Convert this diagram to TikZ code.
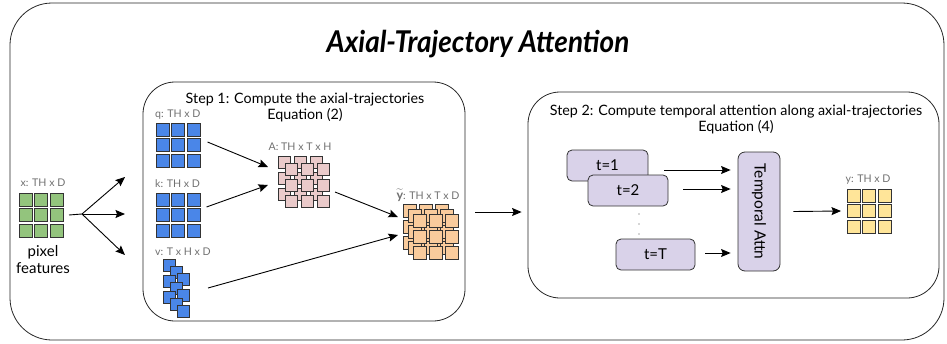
\documentclass[tikz,border=0pt]{standalone}
\usepackage{fontspec}
\usepackage{graphicx}
\usepackage{amsmath}
\setmainfont{Lato}
\usetikzlibrary{arrows.meta,calc}

\definecolor{pixgreen}{HTML}{93C47D}
\definecolor{pixblue}{HTML}{4A86E8}
\definecolor{pixpink}{HTML}{EACACA}
\definecolor{pixorange}{HTML}{F9CB9C}
\definecolor{pixyellow}{HTML}{FFE599}
\definecolor{lavender}{HTML}{D9D2E9}
\definecolor{edgegray}{HTML}{333333}
\definecolor{labelgray}{HTML}{707070}

% 3x3 grid of cells: x, y (top-left), cell size, pitch, fill colour
\newcommand\cellgrid[5]{%
  \foreach \i in {0,1,2}{\foreach \j in {0,1,2}{%
    \draw[cell,fill=#5] (#1+\i*#4,#2+\j*#4) rectangle ++(#3,#3);}}}

\tikzset{
  cell/.style={draw=edgegray,line width=0.7pt},
  gridbox/.style={inner sep=0pt,outer sep=0pt},
  panel/.style={draw=black!85,line width=0.8pt,rounded corners=#1},
  arr/.style={line width=0.9pt,-{Stealth[length=9.5pt,width=8pt,inset=1.5pt]}},
  plain/.style={line width=0.9pt},
  dimlabel/.style={text=labelgray,font=\fontsize{10.6}{12}\selectfont,inner sep=0pt},
  steptext/.style={font=\fontsize{14.3}{17}\selectfont,align=center,inner sep=0pt},
  tbox/.style={draw=edgegray,fill=lavender,line width=0.8pt,rounded corners=5pt,
    font=\fontsize{15}{18}\selectfont,inner sep=0pt},
}

\begin{document}
\begin{tikzpicture}[x=1pt,y=-1pt]
\useasboundingbox (0,0) rectangle (947,343);

% outer frame and title
\node[panel=42pt,minimum width=934pt,minimum height=337pt] (frame) at (477,171.5) {};
\node[inner sep=0pt,anchor=base] (title) at (478,52)
  {\scalebox{0.93}[1]{\fontsize{30}{34}\selectfont\bfseries\itshape Axial-Trajectory Attention}};

% input pixel features
\node[dimlabel] (xlab) at (43,183) {x: TH x D};
\cellgrid{19}{193}{13}{15.5}{pixgreen}
\node[gridbox,minimum width=44pt,minimum height=44pt] (xg) at (41,215) {};
\node[font=\fontsize{15}{18}\selectfont,align=center,inner sep=0pt] (pf) at (43,260) {pixel\\[-1pt]features};

% fan-out to q, k, v
\coordinate (split) at (82,214);
\coordinate (toq) at (125,177);
\coordinate (tok) at (125,214);
\coordinate (tov) at (125,255);
\draw[plain] (xg.east) ++(6,0) -- (split);
\draw[arr] (split) -- (toq);
\draw[arr] (split) -- (tok);
\draw[arr] (split) -- (tov);

% step 1 panel
\node[panel=32pt,minimum width=322pt,minimum height=239pt] (step1) at (304,201.5) {};
\node[steptext] (s1) at (305,107) {Step 1: Compute the axial-trajectories\\[-1pt]Equation (2)};

% q and k
\node[dimlabel,anchor=west] (qlab) at (155,115) {q: TH x D};
\cellgrid{156}{123}{13}{15.5}{pixblue}
\node[gridbox,minimum width=44pt,minimum height=44pt] (q) at (178,145) {};
\node[dimlabel,anchor=west] (klab) at (155,184) {k: TH x D};
\cellgrid{156}{193}{13}{15.5}{pixblue}
\node[gridbox,minimum width=44pt,minimum height=44pt] (k) at (178,215) {};

% v: three diagonal stacks
\node[dimlabel,anchor=west] (vlab) at (155,252) {v: T x H x D};
\foreach \g in {0,1,2}{\foreach \s in {0,1,2}{%
  \draw[cell,fill=pixblue] (163+\s*7,259+\g*16+\s*7) rectangle ++(12,12);}}
\node[gridbox,minimum width=26pt,minimum height=58pt] (v) at (176,288) {};

% A: two overlapping layers
\node[dimlabel] (alab) at (300,147) {A: TH x T x H};
\cellgrid{278}{156}{12}{16}{pixpink}
\cellgrid{285}{163}{12}{16}{pixpink}
\node[gridbox,minimum width=51pt,minimum height=51pt] (A) at (303.5,181.5) {};

% y tilde: three overlapping layers
\node[dimlabel,anchor=base] (ytlab) at (428,199) {{\fontsize{12.5}{14}\selectfont$\widetilde{\mathbf{y}}$}: TH x T x D};
\cellgrid{403}{204}{13}{16}{pixorange}
\cellgrid{408}{209}{13}{16}{pixorange}
\cellgrid{413}{214}{13}{16}{pixorange}
\node[gridbox,minimum width=55pt,minimum height=55pt] (yt) at (430.5,231.5) {};

\draw[arr] ($(q.east)+(7.5,-3)$) -- ($(A.west)+(-10,-14.5)$);
\draw[arr] ($(k.east)+(6.5,-8)$) -- ($(A.west)+(-10,3.5)$);
\draw[arr] ($(A.east)+(6,10.5)$) -- ($(yt.west)+(-5,-14.5)$);
\draw[arr] ($(v.east)+(19,0)$) -- ($(yt.west)+(-5,3.5)$);

% step 2 panel
\node[panel=32pt,minimum width=411pt,minimum height=206pt] (step2) at (733.5,195) {};
\draw[arr] ($(step1.east)+(10,10.5)$) -- ($(step2.west)+(-6,17)$);
\node[steptext] (s2) at (736,119) {Step 2: Compute temporal attention along axial-trajectories\\[-1pt]Equation (4)};

\node[tbox,minimum width=81pt,minimum height=31pt] (t1) at (607.5,165.5) {t=1};
\node[tbox,minimum width=80pt,minimum height=31pt] (t2) at (628,190.5) {t=2};
\node[tbox,minimum width=79pt,minimum height=31pt] (tT) at (655.5,254.5) {t=T};
\foreach \d in {0,1,2}{\fill[black!70] (639,214+\d*10) circle (0.6pt);}

\node[tbox,rounded corners=7pt,minimum width=42pt,minimum height=119pt,
  font=\fontsize{15.5}{18}\selectfont] (attn) at (759,211.5) {\rotatebox{-90}{Temporal Attn}};

\draw[arr] ($(t1.east)+(16,4.5)$) -- ($(attn.west)+(-7,-41.5)$);
\draw[arr] ($(t2.east)+(15,-1.5)$) -- ($(attn.west)+(-7,-22.5)$);
\draw[arr] ($(tT.east)+(10,-1.5)$) -- ($(attn.west)+(-7,41.5)$);

% output y
\node[dimlabel] (ylab) at (868,180) {y: TH x D};
\cellgrid{847}{189}{13}{15.5}{pixyellow}
\node[gridbox,minimum width=44pt,minimum height=44pt] (yg) at (869,211) {};
\draw[arr] ($(attn.east)+(13,0)$) -- ($(yg.west)+(-6,0)$);
\end{tikzpicture}
\end{document}
